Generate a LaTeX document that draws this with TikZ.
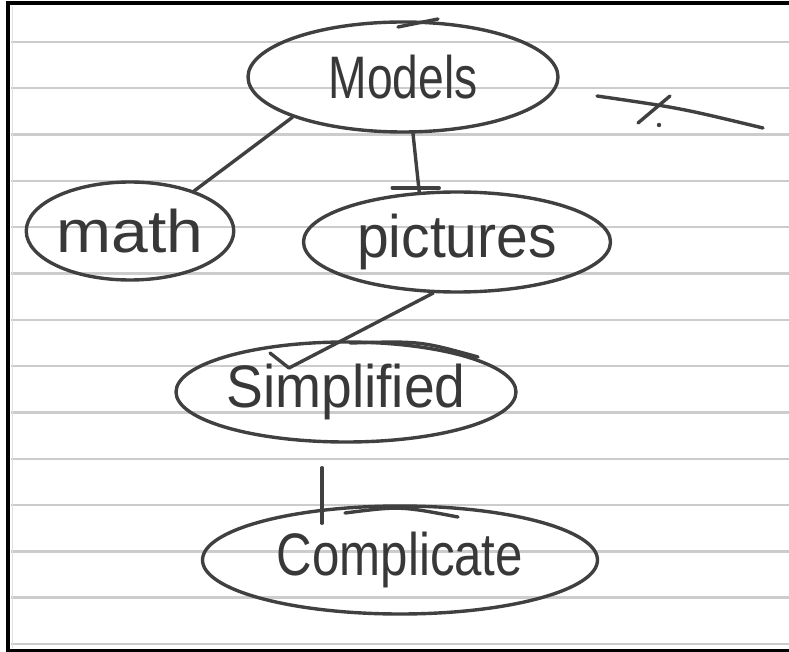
\documentclass[tikz,border=0pt]{standalone}
\usepackage{fontspec}
\setmainfont{Liberation Sans}
\usepackage{graphicx}
\usetikzlibrary{shapes.geometric,calc}

\newcommand{\handtext}[2]{\scalebox{#1}[1]{#2}}

\begin{document}
\begin{tikzpicture}[
  x=1pt, y=-1pt,
  pen/.style={draw=black!75, line width=3.4pt, line cap=round, line join=round},
  bubble/.style={ellipse, pen, inner sep=0pt, text=black!78, font=\fontsize{60}{64}\selectfont},
  rule/.style={draw=black!20, line width=2.4pt}
]

\useasboundingbox (0,0) rectangle (789,652);

% ruled sheet
\foreach \k in {0,...,13}
  \draw[rule] (11,42+46.3*\k) -- (789,42+46.3*\k);
\draw[draw=black!12, line width=1pt] (12,6) -- (12,648);
\draw[line width=4pt] (789,3.4) -- (7.5,3.4) -- (7.5,650.5) -- (789,650.5);

\node[bubble, minimum width=310, minimum height=110] (models) at (403,77) {\handtext{0.77}{Models}};
\node[bubble, minimum width=207, minimum height=98] (math) at (130,231) {\handtext{1.1}{math}};
\node[bubble, minimum width=307, minimum height=100] (pictures) at (457,242) {\handtext{0.95}{pictures}};
\node[bubble, minimum width=340, minimum height=100] (simplified) at (346,392) {\handtext{0.92}{Simplified}};
\node[bubble, minimum width=395, minimum height=108] (complicate) at (400,560) {\handtext{0.82}{Complicate}};

\coordinate (simtip) at ($(simplified.center)+(-57,-24)$);

\draw[pen] (models.200) -- (math.32);
\draw[pen] (models.-80) -- (pictures.127) coordinate (pictop);
\draw[pen] ($(pictop)+(-27,-4)$) -- ++(47,0);
\draw[pen] (pictures.-115) -- (simtip) -- ++(-19,-15);
\draw[pen] ([shift={(-24,24)}]simplified.south) -- ([shift={(-78,19)}]complicate.north);

% retraced strokes
\draw[pen] (398,27) -- (438,19);
\draw[pen] (350,343) .. controls (420,341) .. (478,357);
\draw[pen] (345,513) .. controls (400,506) .. (458,517);

% crossed-out line
\draw[pen] (597,96) .. controls (680,108) .. (763,128);
\draw[pen] (638,123) -- (670,96);
\fill[black!75] (659,125) circle (2.2);

\end{tikzpicture}
\end{document}
